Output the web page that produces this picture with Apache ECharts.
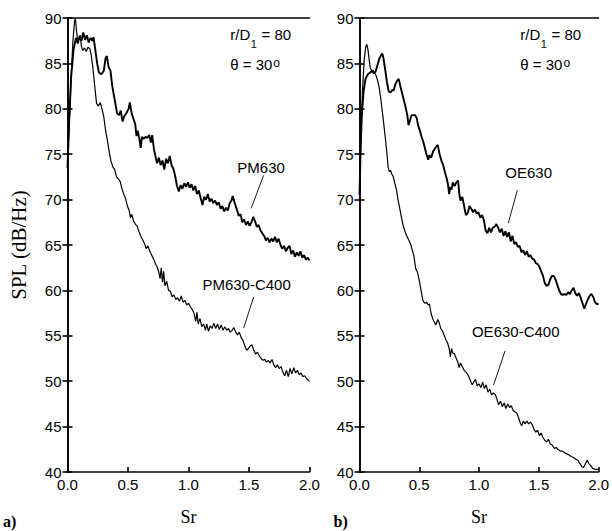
<!DOCTYPE html>
<html><head><meta charset="utf-8">
<script src="https://cdn.jsdelivr.net/npm/echarts@6/dist/echarts.min.js"></script>
<style>html,body{margin:0;padding:0;background:#fff}#c{width:612px;height:531px}</style>
</head><body><div id="c"></div>
<script>
// ---- data (Strouhal number Sr, SPL dB/Hz) ----
const SR_MIN = 0, SR_MAX = 2, SR_STEP = 0.5;
const SPL_MIN = 40, SPL_MAX = 90, SPL_STEP = 5;

const PM630 = [[0,73.5],[0.015,79],[0.03,83.5],[0.05,86.5],[0.07,87.8],[0.085,87.2],[0.1,88.0],[0.115,87.5],[0.13,88.4],[0.145,87.6],[0.16,88.1],[0.175,87.3],[0.19,87.8],[0.205,87.5],[0.215,87.9],[0.23,86.5],[0.245,85.0],[0.26,84.0],[0.28,83.8],[0.3,84.2],[0.315,85.6],[0.325,85.8],[0.34,84.6],[0.355,84.2],[0.37,82.5],[0.39,81.0],[0.41,79.5],[0.425,79.3],[0.44,79.8],[0.455,78.6],[0.47,79.2],[0.49,79.6],[0.505,80.0],[0.515,80.7],[0.53,79.5],[0.545,78.9],[0.56,78.3],[0.57,77.0],[0.58,77.6],[0.595,76.6],[0.605,75.7],[0.615,76.9],[0.63,76.7],[0.645,76.9],[0.66,76.8],[0.675,77.1],[0.69,76.3],[0.70,77.1],[0.715,75.5],[0.73,74.6],[0.74,74.0],[0.755,74.6],[0.77,73.8],[0.785,74.3],[0.8,73.3],[0.815,74.5],[0.83,74.0],[0.845,74.8],[0.86,73.8],[0.875,73.4],[0.89,72.6],[0.905,71.5],[0.92,70.9],[0.935,71.6],[0.95,71.2],[0.965,71.8],[0.98,71.4],[0.995,71.9],[1.01,71.3],[1.025,71.7],[1.04,71.0],[1.055,71.5],[1.07,70.6],[1.085,71.0],[1.1,70.2],[1.115,69.4],[1.13,70.3],[1.145,70.0],[1.16,70.6],[1.175,69.8],[1.19,70.1],[1.205,69.6],[1.22,69.9],[1.235,69.4],[1.25,69.7],[1.265,69.0],[1.28,69.3],[1.295,68.7],[1.31,69.1],[1.325,68.8],[1.34,69.6],[1.355,69.9],[1.365,70.4],[1.38,69.7],[1.4,68.9],[1.415,68.2],[1.43,68.4],[1.445,67.5],[1.46,67.8],[1.475,67.2],[1.49,67.6],[1.505,67.1],[1.52,67.5],[1.535,68.1],[1.55,67.6],[1.565,67.0],[1.58,67.2],[1.595,66.6],[1.61,66.3],[1.625,66.0],[1.64,65.5],[1.655,65.8],[1.67,65.3],[1.685,65.7],[1.70,65.4],[1.715,65.9],[1.73,65.3],[1.745,65.7],[1.76,65.0],[1.775,64.6],[1.79,64.9],[1.805,64.3],[1.82,64.7],[1.835,64.9],[1.85,64.0],[1.865,64.4],[1.88,63.7],[1.895,64.2],[1.91,63.8],[1.925,64.3],[1.94,63.6],[1.955,63.9],[1.97,63.4],[1.985,63.6],[2.0,63.3]];

const PM630_C400 = [[0,74.0],[0.015,78.5],[0.03,83.5],[0.045,87.5],[0.058,89.6],[0.065,90.0],[0.075,88.5],[0.085,87.3],[0.095,87.8],[0.105,88.1],[0.115,86.9],[0.125,86.4],[0.14,86.7],[0.155,86.3],[0.17,86.8],[0.185,86.6],[0.195,86.0],[0.21,84.5],[0.225,82.5],[0.24,80.6],[0.255,80.3],[0.27,80.7],[0.285,80.0],[0.3,79.1],[0.315,77.6],[0.33,76.5],[0.345,75.2],[0.36,74.2],[0.375,73.6],[0.39,73.3],[0.405,72.5],[0.42,72.3],[0.435,72.0],[0.45,71.2],[0.465,70.6],[0.48,70.1],[0.495,69.3],[0.51,68.8],[0.52,68.0],[0.53,68.4],[0.545,67.7],[0.56,67.3],[0.575,67.1],[0.59,66.5],[0.605,66.0],[0.62,65.6],[0.635,65.2],[0.65,64.6],[0.665,64.9],[0.68,64.3],[0.695,63.9],[0.71,63.5],[0.725,63.0],[0.74,62.6],[0.755,62.0],[0.765,61.3],[0.775,62.5],[0.785,60.9],[0.795,62.1],[0.805,60.5],[0.82,61.0],[0.835,60.0],[0.85,59.9],[0.865,59.3],[0.88,59.5],[0.895,59.0],[0.91,59.2],[0.925,58.8],[0.94,59.4],[0.955,58.7],[0.97,58.9],[0.985,58.4],[1.0,58.6],[1.015,58.2],[1.03,57.9],[1.045,57.5],[1.06,56.6],[1.07,57.6],[1.08,56.3],[1.095,56.9],[1.11,56.0],[1.125,56.3],[1.14,55.6],[1.15,56.3],[1.165,55.5],[1.18,56.1],[1.195,55.8],[1.21,56.4],[1.225,55.8],[1.24,56.3],[1.255,55.7],[1.27,56.2],[1.285,55.6],[1.30,56.0],[1.315,55.6],[1.33,55.8],[1.345,55.4],[1.36,55.6],[1.375,55.9],[1.39,55.4],[1.405,55.1],[1.42,55.4],[1.435,54.8],[1.45,54.5],[1.465,53.9],[1.48,53.4],[1.495,53.6],[1.51,53.9],[1.525,54.0],[1.54,53.4],[1.555,53.0],[1.57,53.2],[1.585,52.8],[1.60,52.5],[1.615,52.3],[1.63,52.4],[1.645,52.1],[1.66,52.3],[1.675,52.0],[1.69,52.4],[1.705,51.8],[1.72,51.5],[1.735,51.8],[1.75,51.4],[1.765,51.6],[1.78,51.0],[1.795,50.6],[1.81,51.2],[1.825,50.5],[1.84,51.4],[1.855,50.8],[1.87,51.5],[1.885,50.9],[1.90,51.2],[1.915,50.7],[1.93,50.9],[1.945,50.5],[1.96,50.6],[1.975,50.3],[1.99,50.1],[2.0,50.0]];

const OE630 = [[0,70.5],[0.01,76],[0.02,79.5],[0.035,82],[0.05,83.3],[0.07,83.8],[0.09,84.0],[0.105,84.2],[0.12,83.9],[0.135,84.1],[0.15,84.8],[0.165,85.5],[0.18,85.9],[0.19,86.1],[0.2,85.6],[0.215,84.3],[0.23,82.9],[0.245,81.9],[0.26,81.8],[0.275,82.1],[0.285,82.0],[0.3,82.7],[0.315,83.1],[0.328,83.3],[0.34,82.6],[0.355,81.8],[0.37,81.0],[0.385,80.2],[0.4,79.3],[0.41,78.2],[0.42,78.6],[0.435,79.3],[0.45,79.3],[0.465,79.3],[0.478,79.0],[0.49,78.2],[0.505,77.6],[0.52,76.9],[0.533,76.4],[0.545,75.8],[0.56,75.0],[0.575,74.4],[0.585,74.9],[0.6,74.6],[0.615,75.3],[0.63,75.6],[0.645,75.9],[0.655,76.0],[0.67,75.0],[0.685,74.3],[0.70,73.8],[0.715,73.0],[0.73,72.3],[0.74,71.7],[0.75,70.6],[0.76,71.4],[0.77,71.1],[0.78,71.9],[0.795,71.5],[0.81,71.9],[0.825,72.1],[0.835,70.6],[0.845,69.9],[0.86,70.3],[0.875,69.3],[0.89,68.3],[0.905,68.5],[0.92,69.3],[0.935,69.0],[0.95,68.6],[0.965,68.9],[0.98,68.5],[0.995,68.6],[1.01,68.0],[1.025,68.3],[1.04,67.8],[1.055,66.6],[1.07,66.3],[1.085,66.9],[1.10,66.4],[1.115,66.9],[1.13,67.0],[1.145,67.3],[1.16,66.9],[1.175,66.4],[1.19,66.8],[1.205,66.0],[1.22,66.5],[1.235,65.9],[1.25,66.4],[1.265,65.4],[1.28,66.0],[1.295,65.1],[1.31,65.3],[1.325,64.8],[1.34,64.9],[1.355,64.2],[1.37,64.4],[1.385,63.9],[1.40,64.3],[1.415,63.7],[1.43,63.9],[1.445,63.5],[1.46,63.4],[1.475,63.0],[1.49,62.9],[1.505,62.6],[1.52,62.1],[1.535,61.6],[1.55,60.8],[1.565,60.5],[1.58,60.6],[1.595,61.2],[1.61,61.6],[1.625,61.6],[1.64,61.2],[1.655,60.6],[1.67,60.0],[1.685,59.6],[1.70,59.5],[1.715,59.6],[1.73,59.5],[1.745,59.8],[1.76,59.6],[1.775,60.0],[1.79,60.3],[1.805,59.7],[1.82,59.4],[1.835,59.7],[1.85,59.2],[1.865,58.6],[1.88,58.0],[1.895,58.5],[1.91,59.0],[1.925,59.4],[1.94,59.6],[1.955,59.3],[1.97,58.7],[1.985,58.5],[2.0,58.5]];

const OE630_C400 = [[0,70.0],[0.012,77],[0.025,82],[0.04,85.5],[0.052,86.8],[0.061,87.1],[0.07,86.6],[0.08,85.5],[0.09,84.5],[0.102,84.2],[0.115,84.2],[0.13,83.9],[0.14,83.6],[0.15,83.2],[0.165,82.3],[0.177,81.2],[0.19,79.8],[0.2,78.7],[0.21,77.5],[0.221,76.2],[0.23,75.0],[0.24,73.5],[0.25,73.1],[0.26,73.2],[0.27,72.8],[0.281,72.6],[0.295,71.8],[0.309,71.1],[0.322,70.0],[0.337,69.0],[0.35,68.1],[0.364,67.2],[0.378,66.6],[0.392,66.1],[0.41,65.6],[0.425,65.2],[0.44,64.5],[0.455,63.8],[0.47,62.4],[0.485,62.0],[0.50,61.1],[0.515,60.0],[0.53,58.9],[0.545,58.6],[0.56,58.7],[0.575,58.4],[0.585,58.5],[0.6,57.4],[0.615,56.8],[0.626,56.5],[0.64,56.2],[0.655,56.8],[0.668,56.4],[0.68,55.8],[0.695,55.5],[0.71,55.0],[0.725,54.5],[0.737,54.2],[0.75,53.6],[0.76,52.7],[0.77,53.6],[0.78,53.1],[0.795,53.0],[0.806,52.6],[0.82,52.2],[0.833,51.5],[0.845,52.0],[0.86,51.6],[0.875,51.2],[0.89,51.0],[0.902,50.8],[0.915,50.5],[0.93,50.0],[0.943,49.6],[0.955,49.9],[0.97,50.2],[0.985,49.5],[1.0,49.7],[1.015,49.3],[1.03,49.9],[1.045,49.2],[1.06,49.6],[1.075,48.8],[1.09,49.1],[1.105,48.5],[1.12,48.7],[1.137,48.5],[1.15,48.0],[1.164,47.4],[1.18,47.8],[1.195,47.2],[1.21,47.6],[1.225,47.0],[1.24,47.5],[1.255,47.1],[1.27,47.3],[1.285,46.8],[1.30,46.6],[1.316,46.5],[1.33,46.0],[1.345,45.4],[1.357,45.1],[1.37,45.6],[1.385,45.3],[1.40,45.6],[1.415,45.3],[1.43,45.5],[1.445,45.2],[1.46,44.7],[1.475,44.4],[1.49,44.6],[1.505,44.0],[1.52,44.3],[1.535,43.8],[1.55,43.5],[1.565,43.3],[1.58,43.6],[1.595,43.1],[1.61,43.0],[1.63,42.6],[1.645,42.7],[1.66,42.5],[1.68,42.3],[1.70,42.3],[1.716,42.1],[1.735,42.0],[1.75,41.9],[1.77,41.7],[1.79,41.6],[1.81,41.4],[1.826,41.3],[1.84,41.0],[1.86,40.6],[1.875,40.5],[1.89,40.9],[1.905,41.3],[1.92,40.9],[1.935,40.7],[1.95,40.4],[1.97,40.3],[1.99,40.3],[2.0,40.3]];

// curve labels: [text, label centre (Sr,dB), leader start, leader end]
const CURVE_LABELS_A = [
  ['PM630', [1.6, 73.5], [1.62, 72.65], [1.518, 69.04]],
  ['PM630-C400', [1.48, 60.65], [1.539, 59.3], [1.456, 55.86]]
];
const CURVE_LABELS_B = [
  ['OE630', [1.415, 73.0], [1.32, 71.03], [1.245, 67.41]],
  ['OE630-C400', [1.307, 55.42], [1.218, 53.35], [1.121, 49.56]]
];
const COND_TEXT = { rD: ['r/D', '1', ' = 80'], theta: ['\u03b8 = 30', 'o'] };
const COND_POS = { rD: [1.345, 88.2], theta: [1.345, 84.9] };
const PANEL_TAGS = ['a)', 'b)'];

// ---- chart ----
const SANS = 'Liberation Sans, Arial, Helvetica, sans-serif';
const SERIF = 'Liberation Serif, Times New Roman, serif';
const chart = echarts.init(document.getElementById('c'), null, {renderer: 'svg'});

const grids = [
  {left: 67.5, top: 18, width: 242, height: 462},
  {left: 359.5, top: 18, width: 242, height: 462}
];
const lineStyleAx = {color: '#000', width: 1.6};
function xMain(g) {
  return {type: 'value', gridIndex: g, min: SR_MIN, max: SR_MAX, interval: SR_STEP,
    axisLine: {lineStyle: lineStyleAx}, axisTick: {inside: true, length: 5, lineStyle: lineStyleAx},
    axisLabel: {formatter: v => v.toFixed(1), color: '#000', fontSize: 15, fontFamily: SANS, margin: 5, showMinLabel: true, showMaxLabel: true},
    splitLine: {show: false},
    name: 'Sr', nameLocation: 'middle', nameGap: 36,
    nameTextStyle: {fontFamily: SERIF, fontSize: 18, color: '#000', verticalAlign: 'top'}};
}
function xTop(g) {
  return {type: 'value', gridIndex: g, position: 'top', min: SR_MIN, max: SR_MAX, interval: SR_STEP,
    axisLine: {lineStyle: lineStyleAx}, axisTick: {show: false}, axisLabel: {show: false}, splitLine: {show: false}};
}
function yMain(g) {
  const ax = {type: 'value', gridIndex: g, min: SPL_MIN, max: SPL_MAX, interval: SPL_STEP,
    axisLine: {lineStyle: lineStyleAx}, axisTick: {inside: true, length: 5, lineStyle: lineStyleAx},
    axisLabel: {color: '#000', fontSize: 15, fontFamily: SANS, margin: 6, showMinLabel: true, showMaxLabel: true},
    splitLine: {show: false}};
  if (g === 0) {
    ax.name = 'SPL (dB/Hz)'; ax.nameLocation = 'middle'; ax.nameGap = 38; ax.nameRotate = 90;
    ax.nameTextStyle = {fontFamily: SERIF, fontSize: 21, color: '#000'};
  }
  return ax;
}
function yRight(g) {
  return {type: 'value', gridIndex: g, position: 'right', min: SPL_MIN, max: SPL_MAX, interval: SPL_STEP,
    axisLine: {lineStyle: lineStyleAx}, axisTick: {inside: true, length: 5, lineStyle: lineStyleAx},
    axisLabel: {show: false}, splitLine: {show: false}};
}
function curve(data, xi, yi, w) {
  return {type: 'line', data: data, xAxisIndex: xi, yAxisIndex: yi, showSymbol: false, symbol: 'none',
    lineStyle: {color: '#000', width: w}, silent: true};
}

chart.setOption({
  animation: false,
  backgroundColor: '#fff',
  grid: grids,
  xAxis: [xMain(0), xTop(0), xMain(1), xTop(1)],
  yAxis: [yMain(0), yRight(0), yMain(1), yRight(1)],
  series: [
    curve(PM630, 0, 0, 1.9),
    curve(PM630_C400, 0, 0, 1.2),
    curve(OE630, 2, 2, 1.9),
    curve(OE630_C400, 2, 2, 1.2)
  ]
});

// ---- annotations placed from data coordinates ----
const ctx = document.createElement('canvas').getContext('2d');
function tw(t, size) { ctx.font = size + 'px ' + SANS; return ctx.measureText(t).width; }
function px(panel, p) {
  const xi = panel === 0 ? 0 : 2;
  return chart.convertToPixel({xAxisIndex: xi, yAxisIndex: xi}, p);
}
const gfx = [];
[CURVE_LABELS_A, CURVE_LABELS_B].forEach((list, panel) => {
  list.forEach(([txt, c, a, b]) => {
    const pc = px(panel, c), pa = px(panel, a), pb = px(panel, b);
    gfx.push({type: 'text', x: pc[0], y: pc[1], style: {text: txt, fill: '#000', font: '15px ' + SANS, textAlign: 'center', textVerticalAlign: 'middle'}});
    gfx.push({type: 'line', shape: {x1: pa[0], y1: pa[1], x2: pb[0], y2: pb[1]}, style: {stroke: '#000', lineWidth: 0.9}});
  });
  // r/D1 = 80
  const r = px(panel, COND_POS.rD);
  const w0 = tw(COND_TEXT.rD[0], 15), w1 = tw(COND_TEXT.rD[1], 11);
  gfx.push({type: 'text', x: r[0], y: r[1], style: {text: COND_TEXT.rD[0], fill: '#000', font: '15px ' + SANS, textAlign: 'left', textVerticalAlign: 'middle'}});
  gfx.push({type: 'text', x: r[0] + w0 + 0.5, y: r[1] + 10, style: {text: COND_TEXT.rD[1], fill: '#000', font: '11px ' + SANS, textAlign: 'left', textVerticalAlign: 'middle'}});
  gfx.push({type: 'text', x: r[0] + w0 + w1 + 1, y: r[1], style: {text: COND_TEXT.rD[2], fill: '#000', font: '15px ' + SANS, textAlign: 'left', textVerticalAlign: 'middle'}});
  // theta = 30o
  const t = px(panel, COND_POS.theta);
  const w2 = tw(COND_TEXT.theta[0], 15);
  gfx.push({type: 'text', x: t[0], y: t[1], style: {text: COND_TEXT.theta[0], fill: '#000', font: '15px ' + SANS, textAlign: 'left', textVerticalAlign: 'middle'}});
  gfx.push({type: 'text', x: t[0] + w2 + 1, y: t[1] - 1, style: {text: COND_TEXT.theta[1], fill: '#000', font: '12px ' + SANS, textAlign: 'left', textVerticalAlign: 'middle'}});
  // panel tag
  const g = grids[panel];
  gfx.push({type: 'text', x: panel === 0 ? 3 : g.left - 26, y: g.top + g.height + 33, style: {text: PANEL_TAGS[panel], fill: '#000', font: 'bold 16px ' + SERIF, textAlign: 'left', textVerticalAlign: 'top'}});
});
chart.setOption({graphic: gfx});
</script>
</body></html>
